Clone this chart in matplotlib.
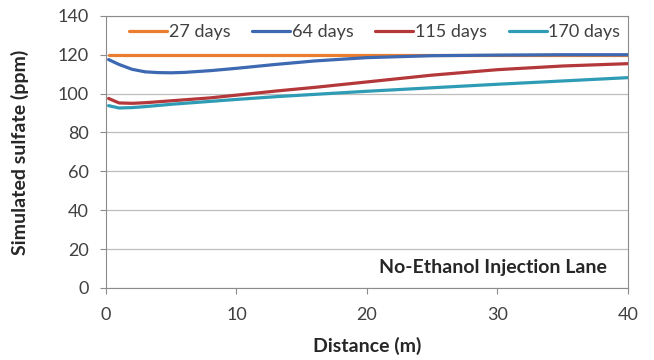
import matplotlib.pyplot as plt
import numpy as np

# distance along the lane (m)
distance = [0.2, 1, 2, 3, 4, 5, 6, 8, 10, 13, 16, 20, 25, 30, 35, 40]

sulfate_27 = [120, 120, 120, 120, 120, 120, 120, 120, 120, 120, 120, 120, 120, 120, 120, 120]
sulfate_64 = [117.5, 115.0, 112.5, 111.2, 110.8, 110.7, 110.9, 111.8, 113.0, 115.0,
              116.8, 118.5, 119.5, 119.8, 120.0, 120.0]
sulfate_115 = [97.5, 95.2, 95.0, 95.3, 95.8, 96.3, 96.8, 97.8, 99.2, 101.3,
               103.2, 106.0, 109.5, 112.3, 114.2, 115.4]
sulfate_170 = [93.8, 92.6, 92.8, 93.3, 93.9, 94.5, 95.0, 96.0, 97.0, 98.4,
               99.6, 101.2, 103.0, 104.8, 106.5, 108.2]

series = [
    ("27 days", sulfate_27, "#EB7D2E"),
    ("64 days", sulfate_64, "#3D68B2"),
    ("115 days", sulfate_115, "#B4373A"),
    ("170 days", sulfate_170, "#2F9CB6"),
]

plt.rcParams["font.family"] = ["Lato", "DejaVu Sans"]

fig = plt.figure(figsize=(6.54, 3.6), dpi=100)
ax = fig.add_axes([0.162, 0.2, 0.798, 0.756])

for label, vals, color in series:
    ax.plot(distance, vals, color=color, lw=2.3, label=label, solid_capstyle="round")

ax.set_xlim(0, 40)
ax.set_ylim(0, 140)
ax.set_xticks(np.arange(0, 41, 10))
ax.set_yticks(np.arange(0, 141, 20))
ax.yaxis.grid(True, color="#BDBDBD", lw=0.9)
ax.set_axisbelow(True)

for side in ["left", "bottom", "top", "right"]:
    ax.spines[side].set_color("#8C8C8C")
ax.tick_params(axis="both", direction="out", length=4.5, color="#8C8C8C",
               labelsize=13, labelcolor="#404040")
ax.tick_params(axis="x", pad=9)
ax.tick_params(axis="y", pad=8)

ax.set_xlabel("Distance (m)", fontsize=14, fontweight="bold", color="#262626")
ax.set_ylabel("Simulated sulfate (ppm)", fontsize=14, fontweight="bold", color="#262626")
ax.xaxis.set_label_coords(0.5, -0.178)
ax.yaxis.set_label_coords(-0.148, 0.5)

ax.text(0.742, 0.075, "No-Ethanol Injection Lane", transform=ax.transAxes,
        ha="center", va="center", fontsize=14, fontweight="bold", color="#262626")

ax.legend(loc="center", bbox_to_anchor=(0.515, 0.94), ncol=4, frameon=False,
          fontsize=13, handlelength=2.1, handletextpad=0.1, columnspacing=1.2,
          labelcolor="#404040")

fig.savefig("out.png", dpi=100)
